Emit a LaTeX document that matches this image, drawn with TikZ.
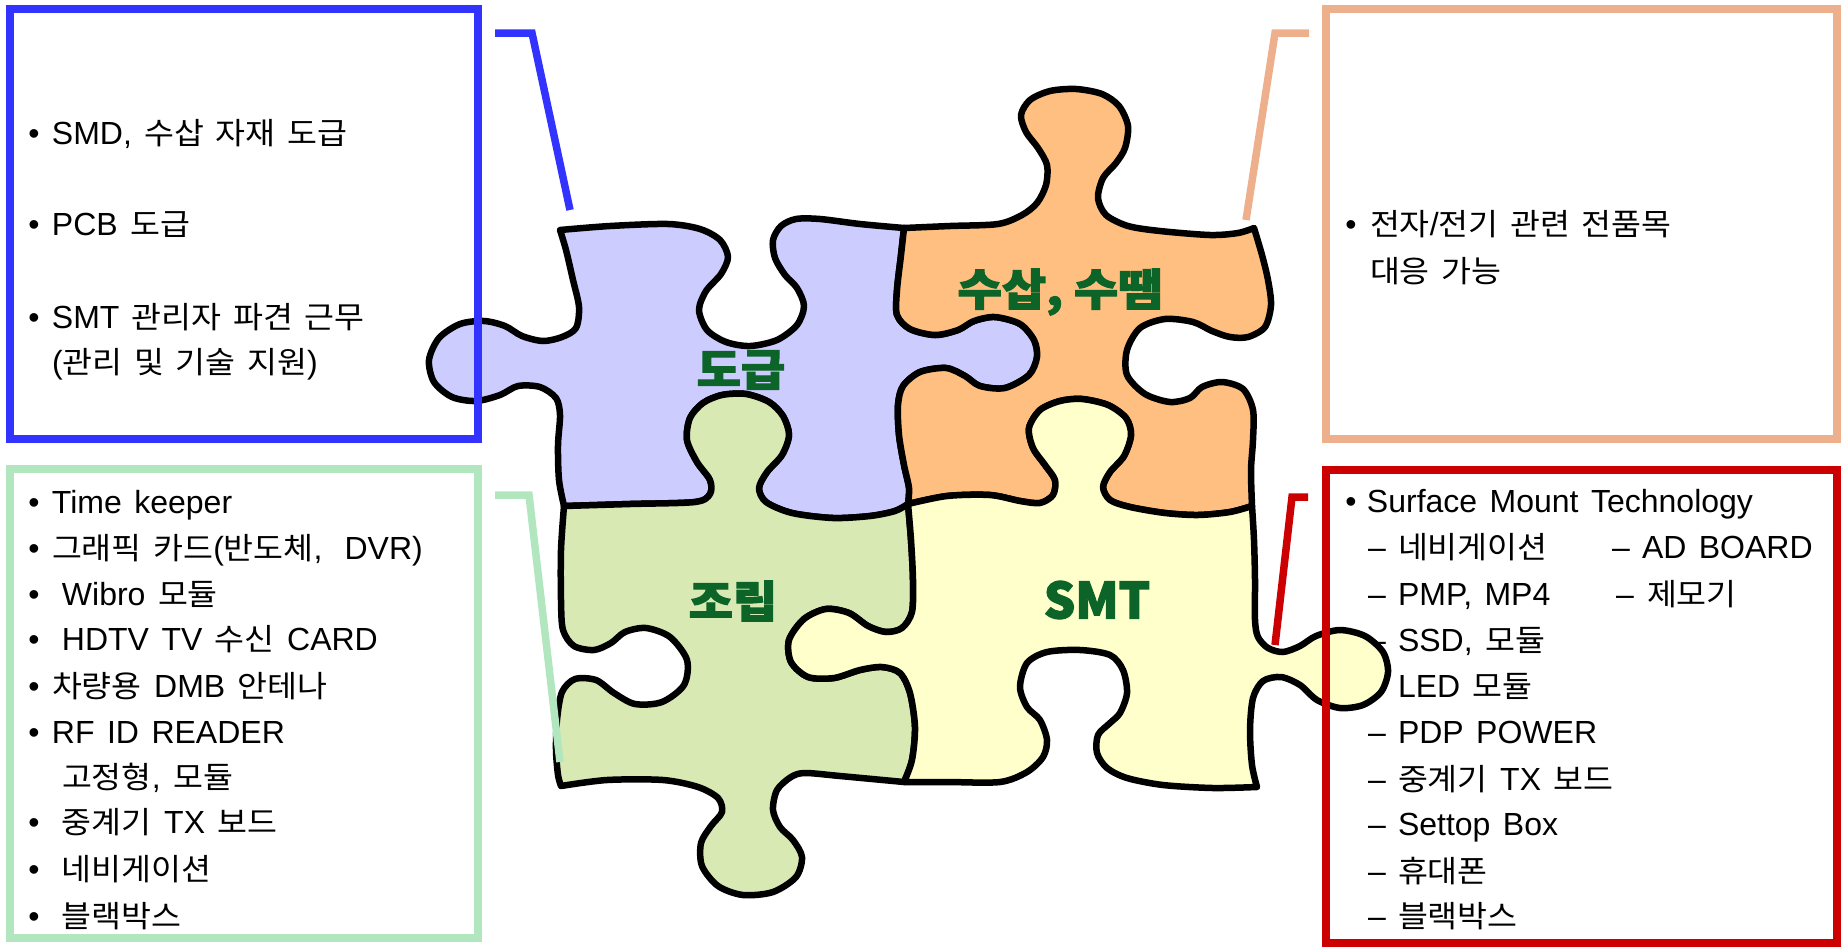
\documentclass[tikz,border=0pt]{standalone}
\usepackage{graphicx}
\usepackage{fontspec}
\setmainfont[WordSpace=1.4]{Liberation Sans}
\newfontfamily\krfont[Scale=0.95,WordSpace=1.6,FakeStretch=1.07]{Noto Sans CJK KR}
\newfontfamily\krheavy[Scale=0.95,BoldFeatures={FakeBold=2.5}]{Noto Sans CJK KR}
\newcommand\K[1]{{\krfont #1}}
\newcommand\bl[1]{\makebox[#1][l]{•}}
\newcommand\ds[1]{\makebox[#1][l]{–}}

\definecolor{pblue}{RGB}{204,204,255}
\definecolor{porange}{RGB}{255,191,128}
\definecolor{pgreen}{RGB}{216,233,180}
\definecolor{pyellow}{RGB}{255,255,204}
\definecolor{lblgreen}{RGB}{12,100,40}
\definecolor{bxblue}{RGB}{51,51,255}
\definecolor{bxpeach}{RGB}{238,176,140}
\definecolor{bxgreen}{RGB}{178,230,190}
\definecolor{bxred}{RGB}{204,0,0}

\ExplSyntaxOn
\NewDocumentCommand\mkedge{mmm}
 {
  \seq_set_split:Nnn \l_tmpa_seq {;} {#3}
  \tl_set:Nx #1 { \seq_use:Nn \l_tmpa_seq {~} }
  \seq_reverse:N \l_tmpa_seq
  \tl_set:Nx #2 { \seq_use:Nn \l_tmpa_seq {~} }
 }
\ExplSyntaxOff

% blue top
\mkedge{\EdA}{\EdAr}{(560,230);(610,226);(668,224);(700,229);(720,240);(728,257);(721,274);(706,291);(699,310);(707,330);(726,342);(750,346);(777,340);(797,325);(804,306);(797,288);(785,275);(775,258);(773,240);(781,226);(796,219);(820,219);(860,224);(904,228)}
% blue / orange
\mkedge{\EdB}{\EdBr}{(904,228);(901,255);(897,290);(897,315);(910,329);(935,335);(958,330);(974,321);(995,317);(1020,324);(1034,340);(1037,357);(1029,375);(1005,388);(980,386);(965,376);(946,368);(920,372);(903,386);(898,405);(899,435);(904,465);(909,488);(908,504)}
% orange top
\mkedge{\EdC}{\EdCr}{(904,228);(950,226);(998,224);(1022,215);(1037,203);(1046,185);(1047,165);(1038,148);(1026,132);(1021,115);(1030,100);(1050,91);(1076,89);(1102,94);(1119,106);(1128,126);(1125,148);(1116,163);(1103,178);(1098,198);(1106,215);(1128,226);(1160,231);(1210,235);(1238,233);(1254,228)}
% orange right
\mkedge{\EdD}{\EdDr}{(1254,228);(1262,255);(1268,280);(1271,305);(1265,327);(1248,337);(1230,337);(1212,331);(1193,322);(1165,319);(1140,328);(1127,350);(1127,375);(1145,394);(1170,402);(1190,398);(1202,387);(1222,382);(1243,389);(1253,410);(1253,440);(1251,470);(1252,506)}
% orange / yellow
\mkedge{\EdE}{\EdEr}{(908,504);(947,496);(990,495);(1020,501);(1040,503);(1053,495);(1055,480);(1045,465);(1033,448);(1029,428);(1040,410);(1060,401);(1082,399);(1108,405);(1126,418);(1131,435);(1124,456);(1110,472);(1103,487);(1110,500);(1130,507);(1165,513);(1198,515);(1230,512);(1252,506)}
% blue / green
\mkedge{\EdF}{\EdFr}{(564,506);(630,504);(695,502);(710,494);(710,480);(697,462);(687,440);(690,418);(703,403);(722,395);(746,394);(769,402);(783,416);(789,435);(782,455);(767,472);(759,488);(766,502);(792,513);(833,518);(870,516);(895,511);(908,504)}
% blue left
\mkedge{\EdG}{\EdGr}{(560,230);(566,250);(573,280);(579,307);(576,328);(562,337);(543,341);(522,336);(505,326);(484,321);(460,324);(439,338);(429,360);(434,382);(452,397);(476,401);(500,395);(518,386);(540,387);(556,398);(560,415);(558,445);(559,480);(564,506)}
% green left
\mkedge{\EdH}{\EdHr}{(564,506);(561,550);(561,600);(563,630);(574,646);(594,650);(611,643);(625,632);(646,628);(670,637);(687,660);(684,685);(662,702);(635,704);(614,693);(596,680);(575,679);(562,692);(557,720);(556,750);(558,775);(561,786)}
% green bottom
\mkedge{\EdI}{\EdIr}{(561,786);(607,780);(663,780);(698,787);(718,798);(722,812);(711,826);(701,843);(702,866);(718,886);(743,895);(773,892);(796,877);(802,857);(793,840);(780,827);(773,810);(777,790);(791,777);(805,773);(840,776);(904,782)}
% green / yellow
\mkedge{\EdJ}{\EdJr}{(908,504);(911,540);(913,580);(912,612);(902,628);(886,632);(868,626);(849,613);(826,609);(804,619);(789,640);(791,662);(808,677);(834,678);(860,670);(882,667);(900,673);(910,693);(915,727);(912,760);(904,782)}
% yellow right
\mkedge{\EdK}{\EdKr}{(1252,506);(1254,540);(1255,580);(1255,620);(1258,637);(1268,648);(1283,652);(1300,646);(1316,636);(1340,630);(1365,636);(1383,652);(1388,672);(1381,692);(1363,705);(1340,708);(1317,700);(1300,685);(1281,677);(1263,681);(1253,698);(1250,730);(1252,765);(1257,787)}
% yellow bottom
\mkedge{\EdL}{\EdLr}{(904,782);(947,782);(1000,782);(1027,772);(1043,757);(1047,740);(1040,720);(1027,707);(1020,687);(1027,663);(1047,652);(1080,650);(1110,655);(1123,670);(1127,693);(1120,713);(1110,723);(1098,735);(1097,753);(1107,768);(1127,778);(1163,785);(1213,788);(1257,787)}

\newcommand\piece[5]{%
  \edef\pctmp{\noexpand\filldraw[puzzle,fill=#1]
    plot[smooth,tension=0.5] coordinates {#2}
    -- plot[smooth,tension=0.5] coordinates {#3}
    -- plot[smooth,tension=0.5] coordinates {#4}
    -- plot[smooth,tension=0.5] coordinates {#5} -- cycle;}%
  \pctmp}

\tikzset{
  txt/.style={anchor=base west, inner sep=0pt, outer sep=0pt, font=\fontsize{32}{38}\selectfont},
  puzzle/.style={draw=black, line width=6.5pt, line join=round},
  lbl/.style={inner sep=0pt, text=lblgreen, font=\krheavy\bfseries\fontsize{46}{50}\selectfont},
  frame/.style={line width=8pt, inner sep=0pt, outer sep=0pt, anchor=north west, fill=none},
  conn/.style={line width=7.5pt, line join=miter}
}

\begin{document}
\begin{tikzpicture}[x=1pt,y=-1pt]
\useasboundingbox (0,0) rectangle (1841,946);

% ---- texts of the blue box
\node[txt] (b1) at (28.4,144) {\bl{23.6pt}SMD, \K{수삽 자재 도급}};
\node[txt] (b2) at (28.4,235) {\bl{23.6pt}PCB \K{도급}};
\node[txt] (b3) at (28.4,328) {\bl{23.6pt}SMT \K{관리자 파견 근무}};
\node[txt] (b4) at (52,373) {(\K{관리 및 기술 지원})};

% ---- texts of the green box
\node[txt] (g1) at (28.4,513) {\bl{23.6pt}Time keeper};
\node[txt] (g2) at (28.4,559) {\bl{23.6pt}\K{그래픽 카드}(\K{반도체},\hspace{22pt}DVR)};
\node[txt] (g3) at (28.4,605) {\bl{33.6pt}Wibro \K{모듈}};
\node[txt] (g4) at (28.4,650) {\bl{33.6pt}HDTV TV \K{수신} CARD};
\node[txt] (g5) at (28.4,697) {\bl{23.6pt}\K{차량용} DMB \K{안테나}};
\node[txt] (g6) at (28.4,743) {\bl{23.6pt}RF ID READER};
\node[txt] (g7) at (62,788) {\K{고정형}, \K{모듈}};
\node[txt] (g8) at (28.4,833) {\bl{33.6pt}\K{중계기} TX \K{보드}};
\node[txt] (g9) at (28.4,880) {\bl{33.6pt}\K{네비게이션}};
\node[txt] (g10) at (28.4,927) {\bl{33.6pt}\K{블랙박스}};

% ---- texts of the peach box
\node[txt] (p1) at (1345.4,235) {\bl{24.6pt}\K{전자}/\K{전기 관련 전품목}};
\node[txt] (p2) at (1370,282) {\K{대응 가능}};

% ---- texts of the red box
\node[txt] (r1) at (1345.4,512) {\bl{21.6pt}Surface Mount Technology};
\node[txt] (r2) at (1368,558) {\ds{30pt}\K{네비게이션}};
\node[txt] (r2b) at (1612,558) {\ds{30pt}AD BOARD};
\node[txt] (r3) at (1368,605) {\ds{30pt}PMP, MP4};
\node[txt] (r3b) at (1616,605) {\ds{31pt}\K{제모기}};
\node[txt] (r4) at (1368,651) {\ds{30pt}SSD, \K{모듈}};
\node[txt] (r5) at (1368,697) {\ds{30pt}LED \K{모듈}};
\node[txt] (r6) at (1368,743) {\ds{30pt}PDP POWER};
\node[txt] (r7) at (1368,790) {\ds{30pt}\K{중계기} TX \K{보드}};
\node[txt] (r8) at (1368,835) {\ds{30pt}Settop Box};
\node[txt] (r9) at (1368,882) {\ds{30pt}\K{휴대폰}};
\node[txt] (r10) at (1368,927) {\ds{30pt}\K{블랙박스}};

% ---- puzzle pieces
\piece{pblue}{\EdA}{\EdB}{\EdFr}{\EdGr}
\piece{porange}{\EdC}{\EdD}{\EdEr}{\EdBr}
\piece{pgreen}{\EdF}{\EdJ}{\EdIr}{\EdHr}
\piece{pyellow}{\EdE}{\EdK}{\EdLr}{\EdJr}

% ---- labels
\node[lbl] (L1) at (741,370) {\scalebox{1.1}[1]{도급}};
\node[lbl] (L2) at (1060,292) {\scalebox{1.1}[1]{수삽, 수땜}};
\node[lbl] (L3) at (733,601) {\scalebox{1.1}[1]{조립}};
\node[lbl, font=\krheavy\bfseries\fontsize{52}{56}\selectfont] (L4) at (1097,600) {SMT};

% ---- frames
\node[frame, draw=bxblue, minimum width=468.5pt, minimum height=430pt] (bluebox) at (9.5,9) {};
\node[frame, draw=bxgreen, minimum width=468.5pt, minimum height=469pt] (greenbox) at (9.5,469) {};
\node[frame, draw=bxpeach, minimum width=511.5pt, minimum height=430pt] (peachbox) at (1325.5,9) {};
\node[frame, draw=bxred, minimum width=511.5pt, minimum height=473pt] (redbox) at (1325.5,470) {};

% ---- connectors
\coordinate (bc1) at (495,33);  \coordinate (bc2) at (532,33);  \coordinate (bc3) at (570,210);
\coordinate (pc1) at (1309,33); \coordinate (pc2) at (1275,33); \coordinate (pc3) at (1246,220);
\coordinate (gc1) at (495,495); \coordinate (gc2) at (529,495); \coordinate (gc3) at (560,762);
\coordinate (rc1) at (1308,497);\coordinate (rc2) at (1292,497);\coordinate (rc3) at (1275,645);
\draw[conn, bxblue] (bc1) -- (bc2) -- (bc3);
\draw[conn, bxpeach] (pc1) -- (pc2) -- (pc3);
\draw[conn, bxgreen] (gc1) -- (gc2) -- (gc3);
\draw[conn, bxred] (rc1) -- (rc2) -- (rc3);
\end{tikzpicture}
\end{document}
